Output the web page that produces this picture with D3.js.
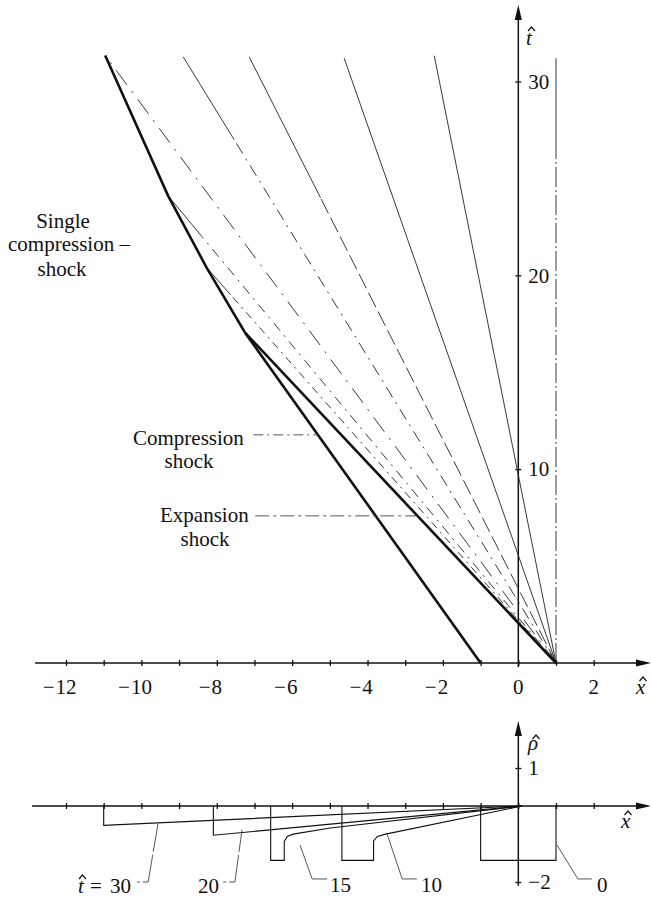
<!DOCTYPE html>
<html>
<head>
<meta charset="utf-8">
<script src="https://cdn.jsdelivr.net/npm/d3@7/dist/d3.min.js"></script>
<style>
  body { margin: 0; background: #fff; }
  svg text { font-family: "Liberation Serif", "DejaVu Serif", serif; font-size: 21px; fill: #111; }
</style>
</head>
<body>
<svg id="chart" width="651" height="899"></svg>
<script>
// values (x̂, t̂ and ρ̂ units)
var xTickValues = [-12, -11, -10, -9, -8, -7, -6, -5, -4, -3, -2, -1, 0, 1, 2];
var xTickLabels = [-12, -10, -8, -6, -4, -2, 0, 2];
var tTickValues = [10, 20, 30];
var rhoTickValues = [1, -2];

// thick shock paths in the (x, t) plane
var singleShock = [[-10.96, 31.34], [-9.29, 24.1], [-8.27, 20.4], [-7.25, 17.04]];
var compressionShock = [[-7.25, 17.04], [-1, 0]];
var expansionShock = [[-7.25, 17.04], [1, 0]];

// thin lines of the fan, all leaving (1, 0)
var fanOrigin = [1, 0];
var fanEnds = [[-8.27, 20.4], [-9.29, 24.1], [-10.96, 31.34], [-8.89, 31.27],
               [-7.14, 31.27], [-4.62, 31.2], [-2.23, 31.33], [1, 31.2]];
var fanSolidAbove = [19, 22, 99, 27, 24, 0, 0, 27];
var fanDash = ["8,5,2,5", "10,6,2,6", "18,8,2,8", "12,6,2,6", "16,5", null, null, "20,3,2,3"];

// density profiles (x, rho) at the labelled times
var profileTimes = [30, 20, 15, 10, 0];
var profile30 = [[-11, 0], [-11, -0.51], [0.1, 0]];
var profile20 = [[-8.09, 0], [-8.09, -0.77], [0.1, 0]];
var profile15 = [[-6.57, 0], [-6.57, -1.43], [-6.21, -1.43], [-6.21, -0.93], [-6.13, -0.8],
                 [-5.97, -0.74], [-4.99, -0.58], [0.1, 0]];
var profile10 = [[-4.68, 0], [-4.68, -1.43], [-3.84, -1.43], [-3.84, -0.92], [-3.74, -0.8],
                 [-3.52, -0.74], [0.1, 0]];
var profile0 = [[-1, 0], [-1, -1.43], [1, -1.43], [1, 0]];

// leader lines for the time labels (x, rho)
var leader30 = [[-10.12, -2.0], [-9.82, -2.0], [-9.56, -0.47]];
var leader20 = [[-7.83, -2.0], [-7.52, -2.0], [-7.33, -0.63]];
var leader15 = [[-5.07, -1.92], [-5.47, -1.92], [-5.79, -1.03]];
var leader10 = [[-2.69, -1.92], [-3.08, -1.92], [-3.48, -0.74]];
var leader0 = [[1.95, -1.92], [1.58, -1.92], [1.03, -1.03]];

var svg = d3.select("#chart");
var FONT = "'Liberation Serif', 'DejaVu Serif', serif";

var x = d3.scaleLinear().domain([-12, 1]).range([66, 556]);
var t = d3.scaleLinear().domain([0, 30]).range([663, 81.5]);
var r = d3.scaleLinear().domain([0, 1]).range([806, 768]);

var lineXT = d3.line().x(function (d) { return x(d[0]); }).y(function (d) { return t(d[1]); });
var lineXR = d3.line().x(function (d) { return x(d[0]); }).y(function (d) { return r(d[1]); });

function arrow(px, py, dir) {
  // filled arrow head, tip at (px, py)
  var L = 15, w = 3.6, pts;
  if (dir == "up") pts = [[px, py], [px - w, py + L], [px + w, py + L]];
  else pts = [[px, py], [px - L, py - w], [px - L, py + w]];
  svg.append("path").attr("d", "M" + pts.join("L") + "Z").attr("fill", "#111");
}

function txt(px, py, s, anchor) {
  return svg.append("text").attr("x", px).attr("y", py).attr("font-family", FONT)
      .attr("font-size", 21).attr("text-anchor", anchor || "start").text(s);
}

// italic letter with a circumflex drawn over it
function hatted(letter, px, py, hx, hy) {
  txt(px, py, letter).attr("font-style", "italic");
  svg.append("path").attr("d", "M" + (hx - 3.5) + "," + (hy + 4) + "L" + hx + "," + hy + "L" + (hx + 3.5) + "," + (hy + 4))
      .attr("fill", "none").attr("stroke", "#111").attr("stroke-width", 1.2);
}

// ---------- upper chart ----------
var xAxisTop = svg.append("g")
    .attr("transform", "translate(0," + t(0) + ")")
    .call(d3.axisBottom(x).tickValues(xTickValues).tickSize(3).tickSizeOuter(0).tickFormat(""));
xAxisTop.select(".domain").remove();
xAxisTop.selectAll(".tick line").attr("y1", -3).attr("y2", 3).attr("stroke", "#111").attr("stroke-width", 1.3);
svg.append("line").attr("x1", x(-12.82)).attr("x2", x(3.2)).attr("y1", t(0)).attr("y2", t(0))
    .attr("stroke", "#111").attr("stroke-width", 1.5);
arrow(x(3.52), t(0), "right");

xTickLabels.forEach(function (v) {
  var s = String(Math.abs(v));
  txt(x(v), 694, s, "middle");
  if (v < 0) txt(x(v) - s.length * 5.25 - 1, 694, "\u2212", "end");
});

var tAxis = svg.append("g")
    .attr("transform", "translate(" + x(0) + ",0)")
    .call(d3.axisRight(t).tickValues(tTickValues).tickSize(3).tickPadding(7).tickSizeOuter(0));
tAxis.select(".domain").remove();
tAxis.selectAll(".tick line").attr("x1", -3).attr("stroke", "#111").attr("stroke-width", 1.3);
tAxis.selectAll(".tick text").attr("font-size", 21).attr("font-family", FONT).attr("fill", "#111");
svg.append("line").attr("x1", x(0)).attr("x2", x(0)).attr("y1", t(-0.2)).attr("y2", t(33.2))
    .attr("stroke", "#111").attr("stroke-width", 1.5);
arrow(x(0), t(33.95), "up");

hatted("t", 526, 45, 531.5, 27);
hatted("x", 636, 694, 643, 677);

// fan lines
fanEnds.forEach(function (e, i) {
  var tSplit = Math.min(fanSolidAbove[i], e[1]);
  var k = tSplit / e[1];
  var mid = [fanOrigin[0] + (e[0] - fanOrigin[0]) * k, fanOrigin[1] + (e[1] - fanOrigin[1]) * k];
  svg.append("path").attr("d", lineXT([fanOrigin, mid]))
      .attr("fill", "none").attr("stroke", "#222").attr("stroke-width", 0.9)
      .attr("stroke-dasharray", fanDash[i]);
  if (k < 1) {
    svg.append("path").attr("d", lineXT([mid, e]))
        .attr("fill", "none").attr("stroke", "#222").attr("stroke-width", 0.9);
  }
});

[singleShock, compressionShock, expansionShock].forEach(function (p) {
  svg.append("path").attr("d", lineXT(p))
      .attr("fill", "none").attr("stroke", "#111").attr("stroke-width", 2.6)
      .attr("stroke-linejoin", "round");
});

// labels of the shocks
txt(63, 228, "Single", "middle");
txt(8, 251, "compression \u2013");
txt(62, 276, "shock", "middle");
txt(133, 445, "Compression");
txt(189, 468, "shock", "middle");
txt(160, 522, "Expansion");
txt(205, 546, "shock", "middle");
svg.append("path").attr("d", lineXT([[-7.03, 11.77], [-5.31, 11.77]]))
    .attr("stroke", "#444").attr("stroke-width", 0.9).attr("stroke-dasharray", "10,4,2,4");
svg.append("path").attr("d", lineXT([[-6.98, 7.59], [-2.66, 7.59]]))
    .attr("stroke", "#444").attr("stroke-width", 0.9).attr("stroke-dasharray", "14,4,3,4");

// ---------- lower chart ----------
var xAxisBot = svg.append("g")
    .attr("transform", "translate(0," + r(0) + ")")
    .call(d3.axisBottom(x).tickValues(xTickValues).tickSize(3).tickSizeOuter(0).tickFormat(""));
xAxisBot.select(".domain").remove();
xAxisBot.selectAll(".tick line").attr("y1", -3).attr("y2", 3).attr("stroke", "#111").attr("stroke-width", 1.3);
svg.append("line").attr("x1", x(-12.9)).attr("x2", x(3.2)).attr("y1", r(0)).attr("y2", r(0))
    .attr("stroke", "#111").attr("stroke-width", 1.5);
arrow(x(3.52), r(0), "right");

var rAxis = svg.append("g")
    .attr("transform", "translate(" + x(0) + ",0)")
    .call(d3.axisRight(r).tickValues(rhoTickValues).tickSize(3).tickPadding(7).tickSizeOuter(0)
        .tickFormat(function (d) { return d < 0 ? "\u2212" + Math.abs(d) : d; }));
rAxis.select(".domain").remove();
rAxis.selectAll(".tick line").attr("x1", -3).attr("stroke", "#111").attr("stroke-width", 1.3);
rAxis.selectAll(".tick text").attr("font-size", 21).attr("font-family", FONT).attr("fill", "#111");
svg.append("line").attr("x1", x(0)).attr("x2", x(0)).attr("y1", r(-2.1)).attr("y2", r(1.9))
    .attr("stroke", "#111").attr("stroke-width", 1.5);
arrow(x(0), r(2.24), "up");

hatted("\u03c1", 528, 750, 536, 735);
hatted("x", 621, 828, 628, 811);

[profile30, profile20, profile15, profile10, profile0].forEach(function (p) {
  svg.append("path").attr("d", lineXR(p))
      .attr("fill", "none").attr("stroke", "#111").attr("stroke-width", 1.1);
});

[leader30, leader20, leader15, leader10, leader0].forEach(function (p, i) {
  svg.append("path").attr("d", lineXR(p))
      .attr("fill", "none").attr("stroke", "#444").attr("stroke-width", 0.9)
      .attr("stroke-dasharray", i < 2 ? "3,3,30,0" : null);
});

// time labels
hatted("t", 78, 893, 82.5, 875);
txt(90, 893, "=");
txt(110, 893, profileTimes[0]);
txt(198, 893, profileTimes[1]);
txt(330, 892, profileTimes[2]);
txt(421, 892, profileTimes[3]);
txt(597, 892, profileTimes[4]);
</script>
</body>
</html>
